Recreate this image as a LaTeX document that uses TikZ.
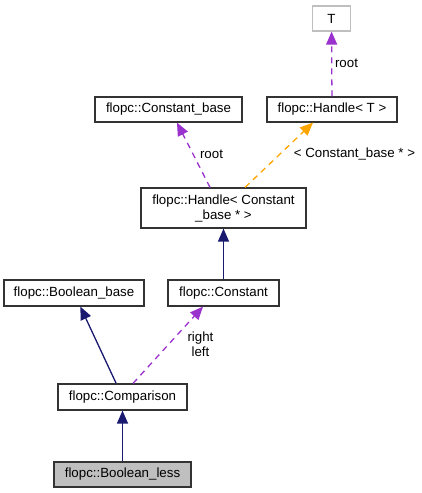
\documentclass[tikz,border=0pt]{standalone}
\usepackage{fontspec}
\setmainfont{Liberation Sans}
\usetikzlibrary{arrows.meta}
\definecolor{inhblue}{HTML}{191970}
\definecolor{usepurple}{HTML}{9A32CD}
\definecolor{tmplorange}{HTML}{FFA500}
\definecolor{curgrey}{HTML}{BFBFBF}
\tikzstyle{klass}=[rectangle, draw=black!80, line width=1.2pt, fill=white, inner sep=0pt, minimum height=25pt, font=\fontsize{13.3}{15}\selectfont]
\tikzstyle{current}=[klass, fill=curgrey]
\tikzstyle{tmplparam}=[klass, draw=curgrey]
\tikzstyle{lbl}=[inner sep=0pt, font=\fontsize{13.3}{14.5}\selectfont, align=center]
\tikzstyle{inherit}=[draw=inhblue, line width=1.3pt, -{Triangle[length=13pt,width=11pt]}]
\tikzstyle{usage}=[draw=usepurple, line width=1.3pt, dash pattern=on 6pt off 5pt, -{Triangle[length=13pt,width=11pt]}]
\tikzstyle{tmpl}=[draw=tmplorange, line width=1.3pt, dash pattern=on 6pt off 5pt, -{Triangle[length=13pt,width=11pt]}]

\begin{document}
\begin{tikzpicture}[x=1pt,y=-1pt]
  \useasboundingbox (0,0) rectangle (421,493);
  \node[tmplparam, minimum width=38pt] (T) at (331.5,18.5) {T};
  \node[klass, minimum width=147pt] (cbase) at (168.5,109.5) {flopc::Constant\_base};
  \node[klass, minimum width=130pt] (handleT) at (332,109.5) {flopc::Handle< T >};
  \node[klass, minimum width=165pt, minimum height=40pt, align=center] (handleCB) at (223.5,208) {flopc::Handle< Constant\\\_base * >};
  \node[klass, minimum width=140pt, minimum height=26pt] (bbase) at (74,293) {flopc::Boolean\_base};
  \node[klass, minimum width=111pt, minimum height=26pt] (constant) at (223.5,293) {flopc::Constant};
  \node[klass, minimum width=129pt, minimum height=26pt] (comparison) at (122.5,397) {flopc::Comparison};
  \node[current, minimum width=137pt] (bless) at (122.5,474.5) {flopc::Boolean\_less};

  \draw[usage] (handleT) -- (T);
  \draw[usage] ([xshift=-13.5pt]handleCB.north) -- ([xshift=8.5pt]cbase.south);
  \draw[tmpl] ([xshift=21.5pt]handleCB.north) -- ([xshift=-19pt]handleT.south);
  \draw[inherit] (constant) -- (handleCB);
  \draw[inherit] (comparison) -- (bbase);
  \draw[usage] ([xshift=10.5pt]comparison.north) -- ([xshift=-20.5pt]constant.south);
  \draw[inherit] (bless) -- (comparison);

  \node[lbl] (rootT) at (346.5,63) {root};
  \node[lbl] (rootCB) at (211.5,154) {root};
  \node[lbl] (tmplarg) at (354.5,154) {< Constant\_base * >};
  \node[lbl] (rightleft) at (200.5,344) {right\\left};
\end{tikzpicture}
\end{document}
